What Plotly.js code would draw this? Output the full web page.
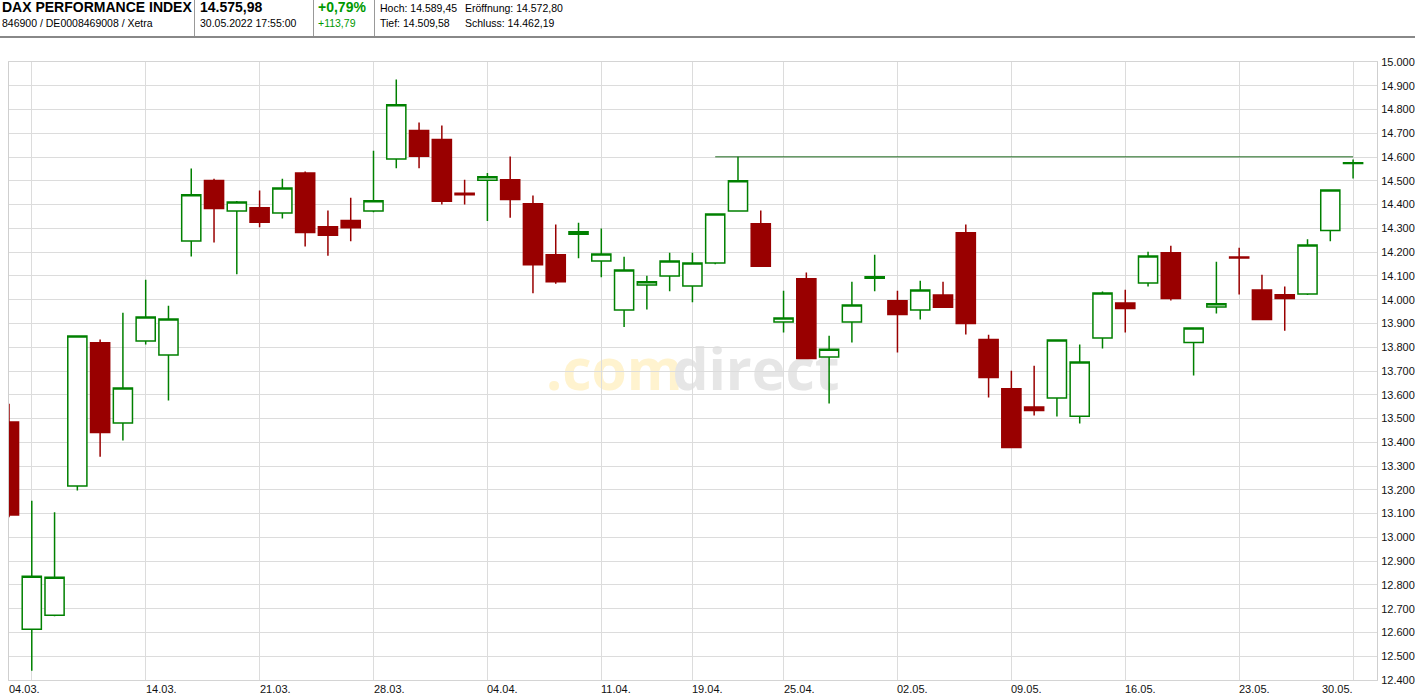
<!DOCTYPE html>
<html>
<head>
<meta charset="utf-8">
<script src="https://cdn.plot.ly/plotly-3.0.1.min.js"></script>
<style>
  body { margin: 0; background: #fff; font-family: Arial, "Liberation Sans", sans-serif; }
  #wrap { position: relative; width: 1415px; height: 698px; overflow: hidden; }
  #myDiv { position: absolute; left: 0; top: 0; width: 1415px; height: 698px; }
  .h { position: absolute; white-space: nowrap; color: #000; z-index: 2; }
  .big { font-size: 14px; font-weight: bold; line-height: 16px; top: -1px; }
  .sm { font-size: 10.5px; line-height: 14px; }
  .sep { position: absolute; top: 0; width: 1px; height: 36px; background: #999; z-index: 2; }
  .green { color: #009900; }
</style>
</head>
<body>
<div id="wrap">
  <div id="myDiv"></div>
  <div class="h big" style="left:2px">DAX PERFORMANCE INDEX</div>
  <div class="h sm" style="left:2px;top:16px">846900 / DE0008469008 / Xetra</div>
  <div class="sep" style="left:194px"></div>
  <div class="h big" style="left:200px">14.575,98</div>
  <div class="h sm" style="left:200px;top:16px">30.05.2022 17:55:00</div>
  <div class="sep" style="left:313px"></div>
  <div class="h big green" style="left:318px">+0,79%</div>
  <div class="h sm green" style="left:318px;top:16px">+113,79</div>
  <div class="sep" style="left:374px"></div>
  <div class="h sm" style="left:380px;top:1px">Hoch: 14.589,45</div>
  <div class="h sm" style="left:465px;top:1px">Eröffnung: 14.572,80</div>
  <div class="h sm" style="left:380px;top:16px">Tief: 14.509,58</div>
  <div class="h sm" style="left:465px;top:16px">Schluss: 14.462,19</div>
  <div style="position:absolute;left:0;top:36px;width:1415px;height:2px;background:#888;z-index:2"></div>
</div>
<script>
var dates = ['04.03.','07.03.','08.03.','09.03.','10.03.','11.03.','14.03.','15.03.','16.03.','17.03.',
  '18.03.','21.03.','22.03.','23.03.','24.03.','25.03.','28.03.','29.03.','30.03.','31.03.',
  '01.04.','04.04.','05.04.','06.04.','07.04.','08.04.','11.04.','12.04.','13.04.','14.04.',
  '19.04.','20.04.','21.04.','22.04.','25.04.','26.04.','27.04.','28.04.','29.04.','02.05.',
  '03.05.','04.05.','05.05.','06.05.','09.05.','10.05.','11.05.','12.05.','13.05.','16.05.',
  '17.05.','18.05.','19.05.','20.05.','23.05.','24.05.','25.05.','26.05.','27.05.','30.05.'];

var open = [13485,12614,12672,13216,13819,13481,13826,13767,14247,14501,
  14373,14387,14365,14533,14307,14333,14373,14592,14712,14674,
  14448,14502,14505,14404,14189,14275,14163,13957,14062,14100,
  14058,14154,14373,14320,13906,14088,13759,13906,14090,13996,
  13957,14020,14282,13832,13625,13549,13586,13510,13839,13986,
  14070,14197,13820,13969,14180,14041,14021,14024,14291,14572.80];
var high = [13562,13154,13106,13850,13832,13945,14084,13974,14552,14509,
  14415,14459,14509,14539,14375,14429,14627,14926,14745,14733,
  14505,14533,14602,14438,14316,14324,14299,14181,14101,14198,
  14198,14363,14601,14375,14038,14114,13848,14076,14189,14038,
  14080,14076,14316,13853,13701,13722,13830,13811,14034,14042,
  14202,14227,13883,14160,14219,14105,14056,14254,14462,14589.45];
var low = [13085,12439,12668,13197,13339,13408,13812,13576,14182,14241,
  14107,14305,14342,14224,14185,14246,14368,14553,14553,14401,
  14401,14331,14345,14027,14067,14174,14094,13885,13959,14035,
  13989,14149,14373,14138,13862,13749,13563,13820,14035,13778,
  13917,13966,13854,13589,13376,13513,13509,13479,13795,13862,
  14056,13997,13681,13942,14022,13915,13869,14020,14246,14509.58];
var close = [13094,12837,12832,13847,13441,13628,13927,13919,14441,14384,
  14411,14326,14470,14283,14271,14303,14416,14820,14603,14414,
  14441,14517,14421,14147,14076,14286,14192,14125,14075,14163,
  14154,14361,14500,14141,13923,13753,13792,13978,14097,13938,
  14041,13968,13900,13673,13378,13534,13830,13738,14028,13963,
  14184,14005,13881,13983,14175,13917,14005,14230,14462,14575.98];

// horizontal line at the 21.04. high
var lineDates = ['20.04.', '30.05.'];
var lineLevel = [14601, 14601];

// weekly gridlines and the date labels under them
var gridDates = ['07.03.','14.03.','21.03.','28.03.','04.04.','11.04.','19.04.','25.04.','02.05.','09.05.','16.05.','23.05.','30.05.'];
var labelDates = ['04.03.','14.03.','21.03.','28.03.','04.04.','11.04.','19.04.','25.04.','02.05.','09.05.','16.05.','23.05.','30.05.'];

var red = '#990000';
var green = '#008000';

var candles = {
  x: dates, open: open, high: high, low: low, close: close,
  type: 'candlestick',
  whiskerwidth: 0,
  increasing: {line: {color: green, width: 1.5}, fillcolor: '#ffffff'},
  decreasing: {line: {color: red, width: 1.5}, fillcolor: red},
  hoverinfo: 'skip',
  showlegend: false
};

var level = {
  x: lineDates, y: lineLevel,
  type: 'scatter', mode: 'lines',
  line: {color: '#1f6a1f', width: 1},
  hoverinfo: 'skip',
  showlegend: false
};

var annotations = labelDates.map(function(d, i) {
  var last = i === labelDates.length - 1;
  return {
    x: d, xref: 'x', y: 0, yref: 'paper',
    text: d, showarrow: false,
    xanchor: last ? 'right' : 'left', yanchor: 'top',
    xshift: last ? 2 : -2, yshift: -1,
    font: {family: 'Arial, Liberation Sans', size: 11, color: '#111'}
  };
});

var wm = {family: 'Open Sans', size: 57, weight: 'bold'};
var shapes = [
  {type: 'rect', xref: 'paper', yref: 'paper', x0: 0.397, x1: 0.488, y0: 0.452, y1: 0.545,
   line: {width: 0}, fillcolor: 'rgba(0,0,0,0)', layer: 'below',
   label: {text: '<b>.com</b>', textposition: 'middle center',
     font: {family: wm.family, size: wm.size, weight: wm.weight, color: '#fff3cf'}}},
  {type: 'rect', xref: 'paper', yref: 'paper', x0: 0.489, x1: 0.603, y0: 0.452, y1: 0.545,
   line: {width: 0}, fillcolor: 'rgba(0,0,0,0)', layer: 'below',
   label: {text: '<b>direct</b>', textposition: 'middle center',
     font: {family: wm.family, size: wm.size, weight: wm.weight, color: '#e6e6e6'}}}
];

var layout = {
  width: 1415, height: 698,
  margin: {l: 9, r: 38, t: 62, b: 18, pad: 0},
  paper_bgcolor: '#ffffff', plot_bgcolor: '#ffffff',
  separators: ',.',
  boxgap: 0.16, boxgroupgap: 0,
  showlegend: false,
  font: {family: 'Arial, Liberation Sans', size: 11, color: '#111'},
  xaxis: {
    type: 'category',
    range: [0, 60.05],
    tickmode: 'array', tickvals: gridDates, showticklabels: false, ticks: '',
    showgrid: true, gridcolor: '#dcdcdc', gridwidth: 1,
    showline: true, linecolor: '#d4d4d4', linewidth: 1, mirror: true,
    zeroline: false, fixedrange: true,
    rangeslider: {visible: false}
  },
  yaxis: {
    side: 'right',
    range: [12400, 15000],
    tickmode: 'linear', tick0: 12400, dtick: 100,
    tickformat: ',d', ticks: '', ticklabelstandoff: 1,
    tickfont: {family: 'Arial, Liberation Sans', size: 11, color: '#111'},
    showgrid: true, gridcolor: '#dcdcdc', gridwidth: 1,
    showline: true, linecolor: '#cfcfcf', linewidth: 1, mirror: true,
    zeroline: false, automargin: false, fixedrange: true
  },
  annotations: annotations,
  shapes: shapes
};

Plotly.newPlot('myDiv', [candles, level], layout, {displayModeBar: false, staticPlot: true});
</script>
</body>
</html>
